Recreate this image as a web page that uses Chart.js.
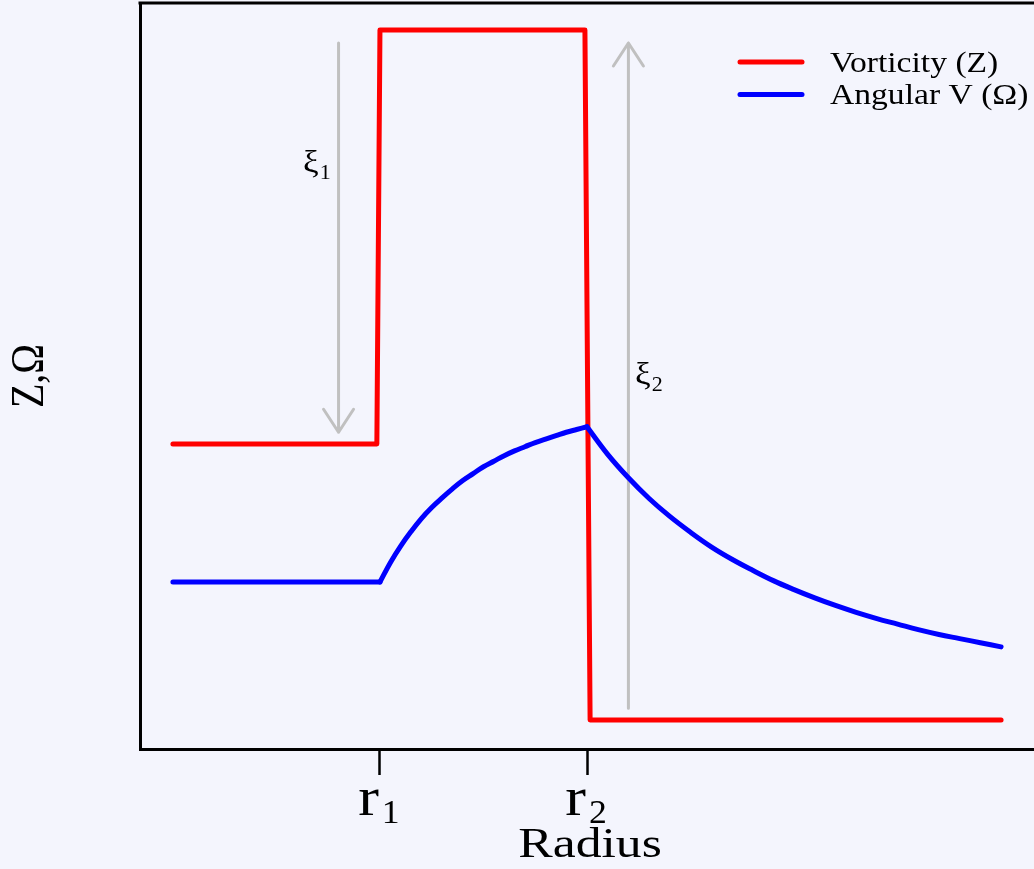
<!DOCTYPE html>
<html>
<head>
<meta charset="utf-8">
<title>Vorticity and angular velocity across a vortex ring</title>
<script src="https://cdn.jsdelivr.net/npm/chart.js@4/dist/chart.umd.min.js"></script>
<style>
  html, body { margin: 0; padding: 0; background: #f4f5fd; overflow: hidden; }
  #wrap { width: 1034px; height: 869px; position: relative; }
</style>
</head>
<body>
<div id="wrap"><canvas id="chart" width="1034" height="869"></canvas></div>
<script>
// Radius is measured in units of r1 (r1 = 1, r2 = 2).
const vortRadius = [0, 0.985, 1.0, 1.99, 2.015, 4.0];
const vortValue  = [4, 4, 10, 10, 0, 0];

const angRadius = [0, 1.0, 1.05, 1.1, 1.15, 1.2, 1.25, 1.3, 1.35, 1.4, 1.45, 1.5,
  1.55, 1.6, 1.65, 1.7, 1.75, 1.8, 1.85, 1.9, 1.95, 2.0,
  2.1, 2.2, 2.3, 2.4, 2.5, 2.6, 2.7, 2.8, 2.9, 3.0,
  3.1, 3.2, 3.3, 3.4, 3.5, 3.6, 3.7, 3.8, 3.9, 4.0];
const angValue = [2.0, 2.0, 2.28, 2.52, 2.73, 2.92, 3.08, 3.22, 3.35, 3.47, 3.57, 3.67,
  3.75, 3.83, 3.90, 3.96, 4.02, 4.07, 4.12, 4.17, 4.21, 4.25,
  3.85, 3.51, 3.21, 2.95, 2.72, 2.51, 2.33, 2.17, 2.02, 1.89,
  1.77, 1.66, 1.56, 1.47, 1.39, 1.31, 1.24, 1.18, 1.12, 1.06];
// edges of the vorticity ring
const ringInner = 1.0;
const ringOuter = 2.0;

const seriesLabels = ['Vorticity (Z)', 'Angular V (\u03A9)'];
const seriesColors = ['#ff0000', '#0000ff'];

// Tick positions on the radius axis and their labels (base + subscript)
const tickRadius = [1, 2];
const tickBase = ['r', 'r'];
const tickSub = ['1', '2'];

const xTitle = 'Radius';
const yTitle = 'Z,\u03A9';

// Vorticity jumps shown as arrows: radius, start value, end value
const jumpRadius = [0.8, 2.2];
const jumpFrom = [9.81, 0.17];
const jumpTo = [4.17, 9.81];
// Jump labels: left radius, centre value, base + subscript
const jumpLabelRadius = [0.628, 2.232];
const jumpLabelValue = [8.04, 4.97];
const jumpLabelBase = ['\u03BE', '\u03BE'];
const jumpLabelSub = ['1', '2'];

const SERIF = '"Liberation Serif", "Times New Roman", serif';
const BG = '#f4f5fd';

function drawStretched(ctx, text, x, y, o) {
  ctx.save();
  ctx.translate(x, y);
  if (o.rotate) ctx.rotate(o.rotate);
  ctx.scale(o.sx || 1, o.sy || 1);
  ctx.font = o.font;
  ctx.fillStyle = o.color || '#000';
  ctx.textAlign = 'left';
  ctx.textBaseline = 'alphabetic';
  ctx.fillText(text, 0, 0);
  ctx.restore();
}
function textWidth(ctx, text, font, sx) {
  ctx.save();
  ctx.font = font;
  const w = ctx.measureText(text).width * (sx || 1);
  ctx.restore();
  return w;
}

const backgroundPlugin = {
  id: 'paper',
  beforeDraw(chart) {
    const ctx = chart.ctx;
    ctx.save();
    ctx.fillStyle = BG;
    ctx.fillRect(0, 0, chart.width, chart.height);
    ctx.restore();
  }
};

const arrowPlugin = {
  id: 'jumpArrows',
  beforeDatasetsDraw(chart) {
    const { ctx, scales: { x, y } } = chart;
    ctx.save();
    ctx.strokeStyle = '#c0c0c0';
    ctx.lineWidth = 3;
    ctx.lineCap = 'round';
    ctx.lineJoin = 'round';
    jumpRadius.forEach((r, i) => {
      const px = x.getPixelForValue(r);
      const y0 = y.getPixelForValue(jumpFrom[i]);
      const y1 = y.getPixelForValue(jumpTo[i]);
      const dir = Math.sign(y1 - y0);
      ctx.beginPath();
      ctx.moveTo(px, y0);
      ctx.lineTo(px, y1);
      ctx.moveTo(px - 15, y1 - dir * 23);
      ctx.lineTo(px, y1);
      ctx.lineTo(px + 15, y1 - dir * 23);
      ctx.stroke();
    });
    ctx.restore();
  }
};

const annotatePlugin = {
  id: 'annotate',
  afterDraw(chart) {
    const { ctx, chartArea: ca, scales: { x, y } } = chart;

    // top edge of the frame
    ctx.save();
    ctx.strokeStyle = '#000';
    ctx.lineWidth = 3;
    ctx.beginPath();
    ctx.moveTo(ca.left - 1.5, ca.top);
    ctx.lineTo(ca.right, ca.top);
    ctx.stroke();
    ctx.restore();

    // radius tick labels r1, r2
    const baseFont = '54px ' + SERIF, subFont = '34px ' + SERIF;
    tickRadius.forEach((r, i) => {
      const px = x.getPixelForValue(r);
      const wb = textWidth(ctx, tickBase[i], baseFont, 1.15);
      const ws = textWidth(ctx, tickSub[i], subFont, 1.05);
      const left = px - 1 - (wb + 3 + ws) / 2;
      drawStretched(ctx, tickBase[i], left, 815, { font: baseFont, sx: 1.15 });
      drawStretched(ctx, tickSub[i], left + wb + 3, 823, { font: subFont, sx: 1.05 });
    });

    // axis titles
    const xtFont = '42px ' + SERIF;
    const wx = textWidth(ctx, xTitle, xtFont, 1.23);
    drawStretched(ctx, xTitle, (ca.left + ca.right) / 2 + 3 - wx / 2, 857, { font: xtFont, sx: 1.23 });

    const ytFont = '40px ' + SERIF;
    const wy = textWidth(ctx, yTitle, ytFont, 1);
    drawStretched(ctx, yTitle, 43, (ca.top + ca.bottom) / 2 + wy / 2, { font: ytFont, rotate: -Math.PI / 2, sy: 1.15 });

    // jump labels
    const xiFont = '32px ' + SERIF, xiSub = '21px ' + SERIF;
    jumpLabelRadius.forEach((r, i) => {
      const px = x.getPixelForValue(r);
      const py = y.getPixelForValue(jumpLabelValue[i]);
      const wb = textWidth(ctx, jumpLabelBase[i], xiFont, 1.1);
      drawStretched(ctx, jumpLabelBase[i], px, py + 7, { font: xiFont, sx: 1.1 });
      drawStretched(ctx, jumpLabelSub[i], px + wb + 1, py + 14, { font: xiSub, sx: 1.05 });
    });

    // legend
    const lgFont = '30px ' + SERIF;
    const lx = ca.right - 294;
    chart.data.datasets.filter(ds => ds.label).forEach((ds, i) => {
      const cy = 62 + i * 32.5;
      ctx.save();
      ctx.strokeStyle = ds.borderColor;
      ctx.lineWidth = 5;
      ctx.lineCap = 'round';
      ctx.beginPath();
      ctx.moveTo(lx, cy);
      ctx.lineTo(lx + 62, cy);
      ctx.stroke();
      ctx.restore();
      drawStretched(ctx, ds.label, lx + 90, cy + 9.5, { font: lgFont, sx: 1.12 });
    });
  }
};

const toPoints = (xs, ys) => xs.map((v, i) => ({ x: v, y: ys[i] }));
const angPoints = toPoints(angRadius, angValue);

const blueLine = { borderColor: seriesColors[1], borderWidth: 5 };

new Chart(document.getElementById('chart'), {
  type: 'line',
  data: {
    datasets: [
      {
        label: seriesLabels[0],
        data: toPoints(vortRadius, vortValue),
        borderColor: seriesColors[0],
        borderWidth: 5,
        order: 3
      },
      {
        // solid-body core: constant angular velocity
        label: seriesLabels[1],
        data: angPoints.filter(p => p.x <= ringInner),
        ...blueLine,
        order: 2
      },
      {
        // inside the ring: rises up to the outer edge
        data: angPoints.filter(p => p.x >= ringInner && p.x <= ringOuter),
        ...blueLine,
        tension: 0.4,
        order: 1
      },
      {
        // irrotational outer region: decays past the peak
        data: angPoints.filter(p => p.x >= ringOuter),
        ...blueLine,
        tension: 0.4,
        order: 0
      }
    ]
  },
  options: {
    responsive: false,
    animation: false,
    events: [],
    layout: { padding: { top: 3, right: 0, left: 0, bottom: 0 } },
    elements: {
      point: { radius: 0 },
      line: { tension: 0, fill: false, borderCapStyle: 'round', borderJoinStyle: 'round' }
    },
    plugins: {
      legend: { display: false },
      tooltip: { enabled: false }
    },
    scales: {
      x: {
        type: 'linear',
        min: -0.159,
        max: 4.159,
        afterFit(scale) { scale.height = 120; },
        afterBuildTicks(scale) { scale.ticks = tickRadius.map(v => ({ value: v })); },
        ticks: { display: false },
        grid: { display: true, drawOnChartArea: false, drawTicks: true, tickLength: 26, tickWidth: 2.5, tickColor: '#000' },
        border: { display: true, color: '#000', width: 3 },
        title: { display: false, text: xTitle }
      },
      y: {
        type: 'linear',
        min: -0.42,
        max: 10.39,
        afterFit(scale) { scale.width = 140; },
        ticks: { display: false },
        grid: { display: false },
        border: { display: true, color: '#000', width: 3 },
        title: { display: false, text: yTitle }
      }
    }
  },
  plugins: [backgroundPlugin, arrowPlugin, annotatePlugin]
});
</script>
</body>
</html>
